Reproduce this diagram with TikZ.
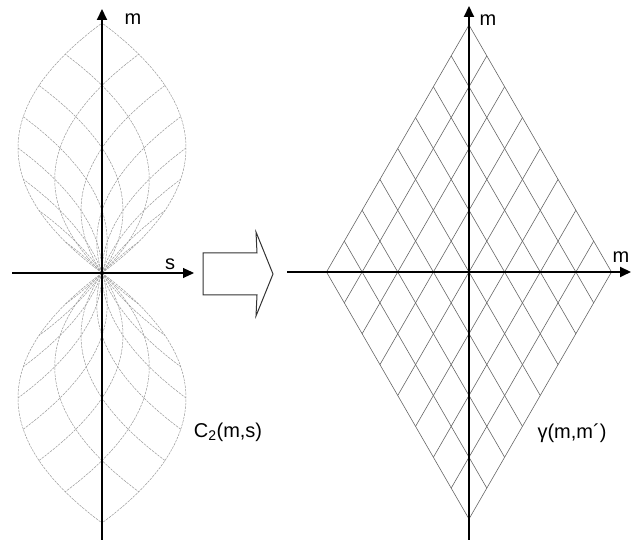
\documentclass[tikz,border=0pt]{standalone}
\usepackage{fontspec}
\setmainfont{Liberation Sans}
\usetikzlibrary{arrows.meta}

\begin{document}
\begin{tikzpicture}[x=1pt, y=1pt,
  axis/.style={line width=2pt, -{Triangle[length=11pt, width=10pt]}},
  thinaxis/.style={line width=1.1pt, -{Triangle[length=11pt, width=10pt]}},
  lens/.style={gray!80, line width=0.5pt, dash pattern=on 2.5pt off 1pt},
  mesh/.style={black!60, line width=0.6pt},
  lbl/.style={font=\fontsize{20}{24}\selectfont, inner sep=0pt}
]
\useasboundingbox (0,0) rectangle (633,540);

% left: C2(m,s)
\coordinate (o1) at (102,267);
\coordinate (o1top) at (102,531);
\coordinate (o1bot) at (102,0);
\coordinate (o1left) at (12,267);
\coordinate (o1right) at (194,267);
\foreach \sg in {1,-1}{
  \begin{scope}[shift={(o1)}, yscale=\sg]
    \foreach \c [evaluate=\c as \tend using (1-\c)/2] in {-1,-0.75,...,0.75}{
      \draw[lens] plot[domain=0:\tend, samples=40, smooth] ({336*(\c+\x)*\x},{250*\x});
      \draw[lens] plot[domain=0:\tend, samples=40, smooth] ({-336*(\c+\x)*\x},{250*\x});
    }
  \end{scope}
}
\draw[thinaxis] (o1left) -- (o1right);
\draw[axis] (o1bot) -- (o1top);
\node[lbl] (m1) at (133,521) {m};
\node[lbl] (s1) at (170,276) {s};
\node[lbl] (c2) at (228,108) {C\textsubscript{2}(m,s)};

% hollow arrow
\draw[line width=1pt, black!80] (203,287) -- (257,287) -- (256,308) -- (273,266)
  -- (256,224) -- (257,245) -- (203,245) -- cycle;

% right: gamma(m,m')
\coordinate (o2) at (469,268);
\coordinate (o2top) at (469,534);
\coordinate (o2bot) at (469,0);
\coordinate (o2left) at (287,268);
\coordinate (o2right) at (631,268);
\begin{scope}[shift={(o2)}]
  \foreach \k in {0,...,8}{
    \draw[mesh] ({-142.5+17.8125*\k},{-30.875*\k}) -- ++(142.5,247);
    \draw[mesh] ({142.5-17.8125*\k},{-30.875*\k}) -- ++(-142.5,247);
  }
\end{scope}
\draw[axis] (o2left) -- (o2right);
\draw[axis] (o2bot) -- (o2top);
\node[lbl] (m2) at (488,520) {m};
\node[lbl] (m3) at (621,283) {m};
\node[lbl] (g1) at (572,107) {γ(m,m´)};
\end{tikzpicture}
\end{document}
